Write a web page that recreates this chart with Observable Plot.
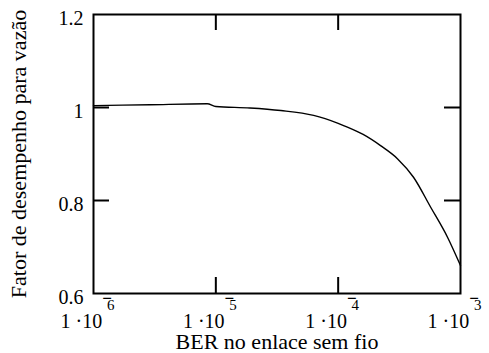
<!DOCTYPE html>
<html>
<head>
<meta charset="utf-8">
<script src="https://cdn.jsdelivr.net/npm/d3@7"></script>
<script src="https://cdn.jsdelivr.net/npm/@observablehq/plot@0.6"></script>
<style>
  html, body { margin: 0; padding: 0; background: white; }
  #chart svg { display: block; }
</style>
</head>
<body>
<div id="chart"></div>
<script>
// ---- data ----
const ber = [1e-6, 2.9e-6, 8.5e-6, 1.0e-5, 1.9e-5, 3.4e-5, 6.3e-5, 1.0e-4, 1.19e-4, 1.6e-4, 2.22e-4, 3.05e-4, 4.13e-4, 5.69e-4, 7.83e-4, 1e-3];
const fator = [1.004, 1.006, 1.008, 1.002, 0.999, 0.9935, 0.983, 0.966, 0.958, 0.942, 0.918, 0.890, 0.850, 0.786, 0.721, 0.660];
const xTicks = [1e-6, 1e-5, 1e-4, 1e-3];
const xInnerTicks = [1e-5, 1e-4];
const yTicks = [0.6, 0.8, 1, 1.2];
const yInnerTicks = [0.8, 1];
const xTitle = "BER no enlace sem fio";
const yTitle = "Fator de desempenho para vazão";

const data = ber.map((b, i) => ({ber: b, f: fator[i]}));

const W = 489, H = 353;
const mL = 93, mR = 29, mT = 14, mB = 60;
const innerW = W - mL - mR, innerH = H - mT - mB;
const tl = 16;
const font = "Liberation Serif";

const svg = Plot.plot({
  width: W, height: H,
  marginLeft: mL, marginRight: mR, marginTop: mT, marginBottom: mB,
  x: {type: "log", domain: [1e-6, 1e-3]},
  y: {domain: [0.6, 1.2]},
  marks: [
    Plot.axisY(yTicks, {tickSize: 0, tickPadding: 10, tickFormat: d => String(d), fontSize: 20, dy: 4, label: null, fontFamily: font, fill: "black"}),
    Plot.axisX(xTicks, {tickSize: 0, tickPadding: 20, fontSize: 20, dx: -6, label: null, fontFamily: font, fill: "black",
      tickFormat: d => "1 ·10^" + Math.round(Math.log10(d))}),
    Plot.tickY(yInnerTicks, {y: d => d, insetRight: innerW - tl, stroke: "black", strokeWidth: 2}),
    Plot.tickY(yInnerTicks, {y: d => d, insetLeft: innerW - tl, stroke: "black", strokeWidth: 2}),
    Plot.tickX(xInnerTicks, {x: d => d, insetBottom: innerH - tl, stroke: "black", strokeWidth: 2}),
    Plot.tickX(xInnerTicks, {x: d => d, insetTop: innerH - tl, stroke: "black", strokeWidth: 2}),
    Plot.line(data, {x: "ber", y: "f", stroke: "black", strokeWidth: 1.4, curve: "monotone-x"}),
    Plot.frame({stroke: "black", strokeWidth: 2}),
    Plot.text([xTitle], {frameAnchor: "bottom", dy: 48, fontSize: 22, lineAnchor: "middle", textAnchor: "middle", fill: "black", fontFamily: font}),
    Plot.text([yTitle], {frameAnchor: "left", dx: -(mL - 18), rotate: -90, fontSize: 22, lineAnchor: "middle", textAnchor: "middle", fill: "black", fontFamily: font})
  ]
});

// turn "1 ·10^-6" tick labels into text with a raised exponent
const ns = "http://www.w3.org/2000/svg";
svg.querySelectorAll('g[aria-label="x-axis tick label"] text').forEach(t => {
  const [base, exp] = t.textContent.split("^");
  const e = Math.abs(+exp);
  t.textContent = "";
  const a = document.createElementNS(ns, "tspan");
  a.textContent = base;
  const m = document.createElementNS(ns, "tspan");
  m.textContent = "−";
  m.setAttribute("font-size", "17");
  m.setAttribute("font-weight", "bold");
  m.setAttribute("dy", "-24");
  const n = document.createElementNS(ns, "tspan");
  n.textContent = String(e);
  n.setAttribute("font-size", "15");
  n.setAttribute("dy", "6");
  n.setAttribute("dx", "-5");
  t.append(a, m, n);
});

// force the serif face on every text element (inline !important)
svg.style.setProperty("font-family", "'Liberation Serif', 'Times New Roman', serif", "important");
svg.querySelectorAll("text, tspan").forEach(el => {
  el.setAttribute("font-family", font);
  el.style.setProperty("font-family", "'Liberation Serif', 'Times New Roman', serif", "important");
});

document.getElementById("chart").append(svg);
</script>
</body>
</html>
